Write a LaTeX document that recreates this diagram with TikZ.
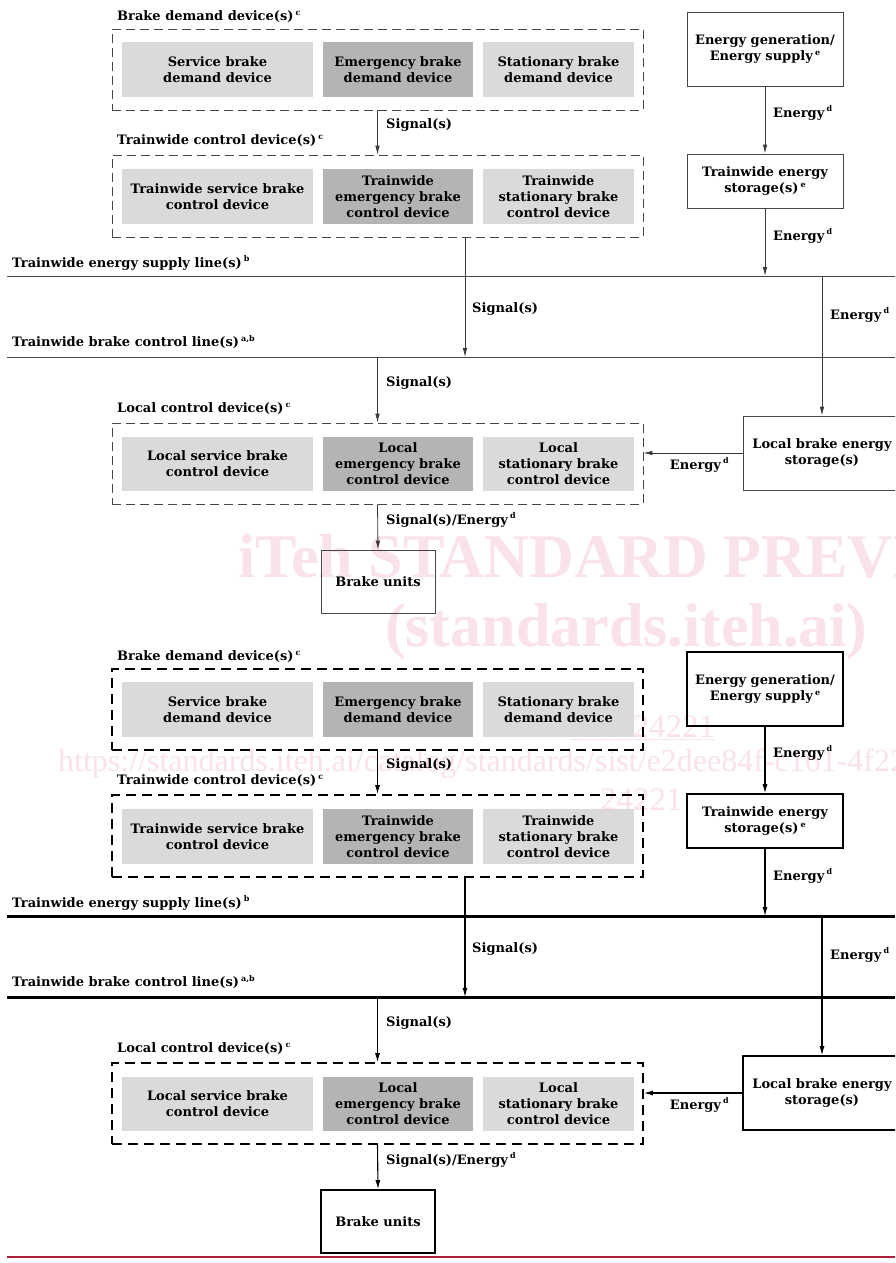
\documentclass[tikz,border=0pt]{standalone}
\usepackage{fontspec}
\setmainfont{DejaVu Serif}
\newfontfamily\wmfont{Liberation Serif}
\usetikzlibrary{arrows.meta}
\definecolor{lightbox}{RGB}{218,218,218}
\definecolor{darkbox}{RGB}{180,180,180}
\definecolor{wmpink}{RGB}{250,226,233}
\definecolor{redrule}{RGB}{176,30,55}
\newcommand\fnm[1]{\,\raisebox{0.42em}{\fontsize{8}{8}\selectfont #1}}
\newcommand\figfont{\bfseries\fontsize{13}{16}\selectfont}
\tikzset{
  lbox/.style={fill=lightbox, inner sep=0pt, align=center, font=\figfont},
  dbox/.style={fill=darkbox, inner sep=0pt, align=center, font=\figfont},
  lbl/.style={inner sep=0pt, font=\figfont, align=center},
  wm/.style={inner sep=0pt, text=wmpink},
  thinset/.style={
    bx/.style={draw=black!72, line width=0.8pt, inner sep=0pt, align=center, font=\figfont},
    dbx/.style={draw=black!72, line width=0.8pt, dash pattern=on 9pt off 5pt, inner sep=0pt},
    bus/.style={draw=black!72, line width=0.9pt},
    conn/.style={draw=black!78, line width=0.8pt, -{Latex[length=9pt,width=4.5pt]}}},
  thickset/.style={
    bx/.style={draw=black, line width=1.6pt, inner sep=0pt, align=center, font=\figfont},
    dbx/.style={draw=black, line width=1.6pt, dash pattern=on 10pt off 6pt, inner sep=0pt},
    bus/.style={draw=black, line width=3pt},
    conn/.style={draw=black, line width=1.1pt, -{Latex[length=9pt,width=5pt]}}},
}
\newcommand\onefig[1]{%
  % dashed groups
  \node[dbx, minimum width=531pt, minimum height=81pt] (#1bd) at (377.5,69.5) {};
  \node[dbx, minimum width=531pt, minimum height=82pt] (#1tc) at (377.5,196) {};
  \node[dbx, minimum width=531pt, minimum height=81pt] (#1lc) at (377.5,463.5) {};
  % group labels
  \node[lbl, anchor=west] (#1bdl) at (117,17) {Brake demand device(s)\fnm{c}};
  \node[lbl, anchor=west] (#1tcl) at (117,141) {Trainwide control device(s)\fnm{c}};
  \node[lbl, anchor=west] (#1lcl) at (117,409) {Local control device(s)\fnm{c}};
  \node[lbl, anchor=west] (#1supl) at (12,263) {Trainwide energy supply line(s)\fnm{b}};
  \node[lbl, anchor=west] (#1ctll) at (12,342) {Trainwide brake control line(s)\fnm{a,b}};
  % inner boxes
  \node[lbox, minimum width=191pt, minimum height=55pt] (#1sb1) at (217.5,69.5) {Service brake\\demand device};
  \node[dbox, minimum width=150pt, minimum height=55pt] (#1eb1) at (398,69.5) {Emergency brake\\demand device};
  \node[lbox, minimum width=151pt, minimum height=55pt] (#1st1) at (558.5,69.5) {Stationary brake\\demand device};
  \node[lbox, minimum width=191pt, minimum height=55pt] (#1sb2) at (217.5,196.5) {Trainwide service brake\\control device};
  \node[dbox, minimum width=150pt, minimum height=55pt] (#1eb2) at (398,196.5) {Trainwide\\emergency brake\\control device};
  \node[lbox, minimum width=151pt, minimum height=55pt] (#1st2) at (558.5,196.5) {Trainwide\\stationary brake\\control device};
  \node[lbox, minimum width=191pt, minimum height=54pt] (#1sb3) at (217.5,464) {Local service brake\\control device};
  \node[dbox, minimum width=150pt, minimum height=54pt] (#1eb3) at (398,464) {Local\\emergency brake\\control device};
  \node[lbox, minimum width=151pt, minimum height=54pt] (#1st3) at (558.5,464) {Local\\stationary brake\\control device};
  % solid boxes
  \node[bx, minimum width=156pt, minimum height=74pt] (#1eg) at (765,49) {Energy generation/\\Energy supply\fnm{e}};
  \node[bx, minimum width=156pt, minimum height=54pt] (#1tes) at (765,181) {Trainwide energy\\storage(s)\fnm{e}};
  \node[bx, minimum width=158pt, minimum height=74pt] (#1lbes) at (822,453) {Local brake energy\\storage(s)};
  \node[bx, minimum width=114pt, minimum height=63pt] (#1bu) at (378,581.5) {Brake units};
  % buses
  \coordinate (#1supL) at (7,276);
  \coordinate (#1supR) at (895,276);
  \coordinate (#1ctlL) at (7,357);
  \coordinate (#1ctlR) at (895,357);
  \draw[bus] (#1supL) -- (#1supR);
  \draw[bus] (#1ctlL) -- (#1ctlR);
  % connectors
  \draw[conn] (#1bd.south) -- (#1tc.north);
  \node[lbl, anchor=west] (#1s1) at (386,125) {Signal(s)};
  \draw[conn] (#1eg.south) -- (#1tes.north);
  \node[lbl, anchor=west] (#1e1) at (773,113) {Energy\fnm{d}};
  \draw[conn] (#1tes.south) -- (#1tes.south |- #1supL);
  \node[lbl, anchor=west] (#1e2) at (773,236) {Energy\fnm{d}};
  \draw[conn] ([xshift=87.5pt]#1tc.south) -- ([xshift=87.5pt]#1tc.south |- #1ctlL);
  \node[lbl, anchor=west] (#1s2) at (472,309) {Signal(s)};
  \draw[conn] (#1lbes.north |- #1supL) -- (#1lbes.north);
  \node[lbl, anchor=west] (#1e3) at (830,315) {Energy\fnm{d}};
  \draw[conn] (#1lc.north |- #1ctlL) -- (#1lc.north);
  \node[lbl, anchor=west] (#1s3) at (386,383) {Signal(s)};
  \draw[conn] (#1lbes.west) -- (#1lbes.west -| #1lc.east);
  \node[lbl, anchor=east] (#1e4) at (729,465) {Energy\fnm{d}};
  \draw[conn] (#1lc.south) -- (#1bu.north);
  \node[lbl, anchor=west] (#1s4) at (386,520) {Signal(s)/Energy\fnm{d}};
}
\begin{document}
\begin{tikzpicture}[x=1pt,y=-1pt]
  \useasboundingbox (0,0) rectangle (895,1263);
  \clip (0,0) rectangle (895,1263);
  \fill[white] (0,0) rectangle (895,1263);
  % watermark
  \node[wm, anchor=west, font=\wmfont\bfseries\fontsize{62}{62}\selectfont] (wm1) at (238,556) {iTeh STANDARD PREVIEW};
  \node[wm, anchor=west, font=\wmfont\bfseries\fontsize{62}{62}\selectfont] (wm2) at (385,632) {(standards.iteh.ai)};
  \node[wm, anchor=west, font=\wmfont\fontsize{33}{33}\selectfont] (wm3) at (571,728) {\underline{ISO 24221}};
  \node[wm, anchor=west, font=\wmfont\fontsize{32}{32}\selectfont] (wm4) at (58,764) {https://standards.iteh.ai/catalog/standards/sist/e2dee84f-c161-4f22};
  \node[wm, anchor=west, font=\wmfont\fontsize{33}{33}\selectfont] (wm5) at (600,800) {24221};
  \begin{scope}[thinset]
    \onefig{a}
  \end{scope}
  \begin{scope}[thickset, shift={(0,640)}]
    \onefig{b}
  \end{scope}
  \coordinate (rl) at (7,1257);
  \coordinate (rr) at (895,1257);
  \draw[redrule, line width=2pt] (rl) -- (rr);
\end{tikzpicture}
\end{document}
